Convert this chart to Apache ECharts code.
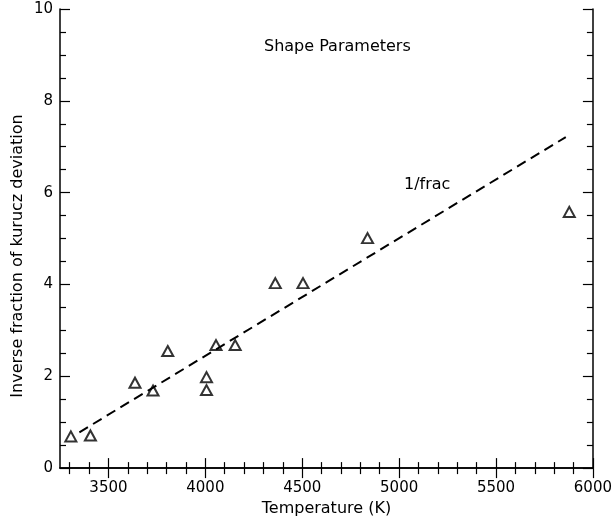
<!DOCTYPE html>
<html><head><meta charset="utf-8">
<script src="https://cdn.jsdelivr.net/npm/echarts@6/dist/echarts.min.js"></script>
<style>html,body{margin:0;padding:0;background:#fff}#c{width:615px;height:522px}</style>
</head><body><div id="c"></div>
<script>
const temperatures = [3306, 3407, 3637, 3730, 3806, 4006, 4006, 4055, 4154, 4361, 4504, 4837, 5878];
const inverseFraction = [0.69, 0.71, 1.86, 1.69, 2.55, 1.98, 1.70, 2.68, 2.68, 4.03, 4.03, 5.01, 5.58];
const fitTemperatures = [3350, 5860];
const fitValues = [0.78, 7.21];
const xTicks = [3500, 4000, 4500, 5000, 5500, 6000];
const yTicks = [0, 2, 4, 6, 8, 10];
const titleText = 'Shape Parameters';
const fitLabel = '1/frac';

const X_MIN = 3250, X_MAX = 6000, Y_MIN = 0, Y_MAX = 10;
const xMinor = [];
for (let v = 3300; v <= 6000; v += 100) if (!xTicks.includes(v)) xMinor.push(v);
const yMinor = [];
for (let v = 0.5; v < 10; v += 0.5) if (!yTicks.includes(v)) yMinor.push(v);

const FONT = 'DejaVu Sans';
const chart = echarts.init(document.getElementById('c'), null, {renderer: 'canvas'});

function makeAxis(kind, pos, major, showLabel) {
  const isX = kind === 'x';
  const ax = {
    type: 'value', position: pos,
    min: isX ? X_MIN : Y_MIN, max: isX ? X_MAX : Y_MAX,
    axisLine: {show: major, lineStyle: {color: '#000', width: 1.5}},
    axisTick: {show: true, inside: true, length: major ? 10 : 6,
      customValues: major ? (isX ? xTicks : yTicks) : (isX ? xMinor : yMinor),
      lineStyle: {color: '#000', width: 1.2}},
    minorTick: {show: false},
    splitLine: {show: false},
    axisLabel: {show: showLabel, margin: isX ? 13 : 7, customValues: isX ? xTicks : yTicks,
      color: '#000', fontFamily: FONT, fontSize: 15, formatter: v => String(v)}
  };
  if (showLabel && isX) {
    ax.name = 'Temperature (K)';
    ax.nameLocation = 'middle';
    ax.nameGap = 31;
    ax.nameTextStyle = {color: '#000', fontFamily: FONT, fontSize: 16};
  }
  return ax;
}

chart.setOption({
  animation: false,
  backgroundColor: '#fff',
  grid: {left: 60, right: 18, top: 9, bottom: 51},
  xAxis: [
    makeAxis('x', 'bottom', true, true),
    makeAxis('x', 'bottom', false, false),
    makeAxis('x', 'top', true, false),
    makeAxis('x', 'top', false, false)
  ],
  yAxis: [
    makeAxis('y', 'left', true, true),
    makeAxis('y', 'left', false, false),
    makeAxis('y', 'right', true, false),
    makeAxis('y', 'right', false, false)
  ],
  series: [
    {
      type: 'line', xAxisIndex: 0, yAxisIndex: 0,
      data: fitTemperatures.map((t, i) => [t, fitValues[i]]),
      symbol: 'none', lineStyle: {color: '#000', width: 2, type: [10, 6]}
    },
    {
      type: 'scatter', xAxisIndex: 0, yAxisIndex: 0,
      data: temperatures.map((t, i) => [t, inverseFraction[i]]),
      symbol: 'triangle', symbolSize: [11, 10],
      itemStyle: {color: 'rgba(255,255,255,0)', borderColor: '#000', borderWidth: 2}
    }
  ],
  graphic: [
    {type: 'text', left: 264, top: 39, style: {text: titleText, fill: '#000', font: '16px "DejaVu Sans"'}},
    {type: 'text', left: 404, top: 177, style: {text: fitLabel, fill: '#000', font: '16px "DejaVu Sans"'}},
    {type: 'text', x: 18, y: 256, rotation: Math.PI / 2,
      style: {text: 'Inverse fraction of kurucz deviation', fill: '#000', font: '16px "DejaVu Sans"',
        align: 'center', verticalAlign: 'middle'}}
  ]
});
</script></body></html>
